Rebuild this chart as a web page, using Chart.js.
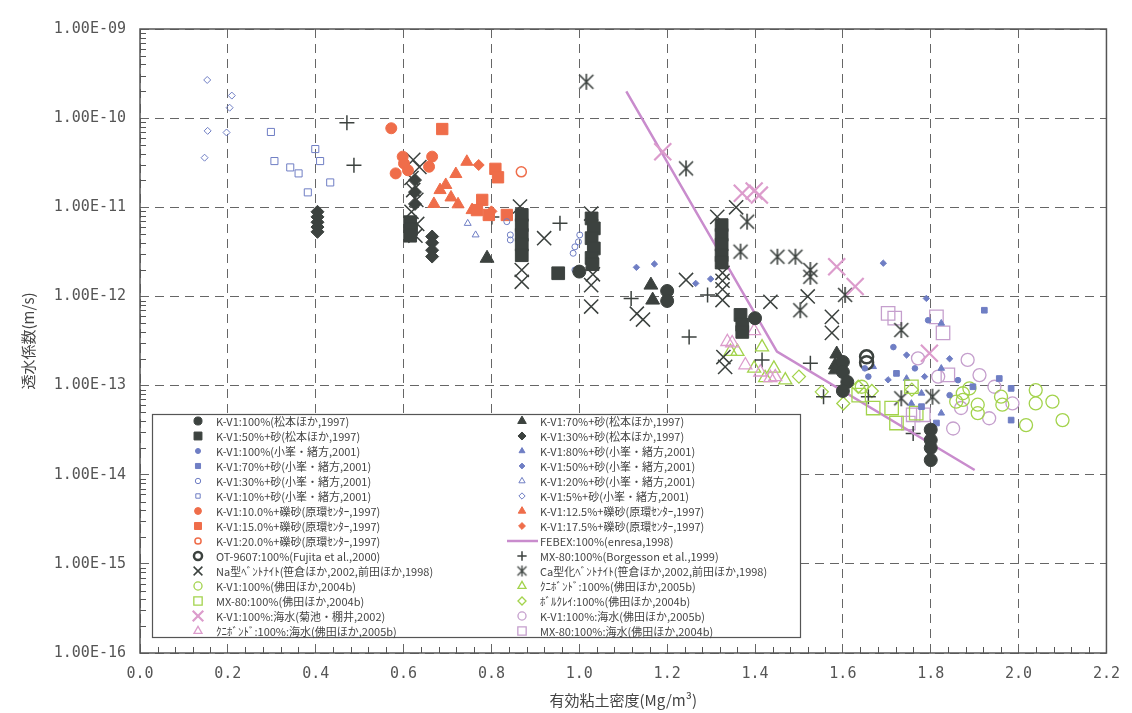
<!DOCTYPE html>
<html lang="ja">
<head>
<meta charset="utf-8">
<title>透水係数と有効粘土密度</title>
<script src="https://cdn.jsdelivr.net/npm/chart.js@4.4.1/dist/chart.umd.min.js"></script>
<style>
    body { margin: 0; background: #fff; }
    #chartBox { width: 1132px; height: 713px; }
</style>
</head>
<body>
<div id="chartBox"><canvas id="permChart" width="1132" height="713"></canvas></div>
<script>
// Axis ticks
const xTickValues = [0, 0.2, 0.4, 0.6, 0.8, 1.0, 1.2, 1.4, 1.6, 1.8, 2.0, 2.2];
const xTickLabels = ['0.0', '0.2', '0.4', '0.6', '0.8', '1.0', '1.2', '1.4', '1.6', '1.8', '2.0', '2.2'];
const yTickValues = [1e-16, 1e-15, 1e-14, 1e-13, 1e-12, 1e-11, 1e-10, 1e-9];
const yTickLabels = ['1.00E-16', '1.00E-15', '1.00E-14', '1.00E-13', '1.00E-12', '1.00E-11', '1.00E-10', '1.00E-09'];

// Series (left legend column)
const matsumoto100X = [1.00, 1.20, 1.20, 1.40, 1.60, 1.60, 1.61, 1.60, 1.80, 1.80, 1.80, 1.80];
const matsumoto100Y = [1.9e-12, 1.15e-12, 8.9e-13, 5.7e-13, 1.84e-13, 1.42e-13, 1.1e-13, 8.7e-14, 3.2e-14, 2.45e-14, 2.0e-14, 1.46e-14];
const matsumoto50X = [0.615, 0.617, 0.615, 0.869, 0.869, 0.869, 0.869, 0.869, 0.952, 1.028, 1.033, 1.028, 1.033, 1.028, 1.03, 1.324, 1.324, 1.324, 1.324, 1.324, 1.367, 1.371, 1.371];
const matsumoto50Y = [6.8e-12, 5.7e-12, 4.8e-12, 8.2e-12, 6.3e-12, 4.9e-12, 3.8e-12, 2.9e-12, 1.82e-12, 7.5e-12, 5.8e-12, 4.5e-12, 3.45e-12, 2.7e-12, 2.3e-12, 6.3e-12, 4.9e-12, 3.8e-12, 2.9e-12, 2.4e-12, 6.2e-13, 4.8e-13, 4.0e-13];
const komine100X = [1.715, 1.794, 1.764, 1.862, 1.843, 1.650, 1.658];
const komine100Y = [2.7e-13, 5.4e-13, 1.56e-13, 1.15e-13, 7.8e-14, 1.56e-13, 1.26e-13];
const komine70X = [1.922, 1.956, 1.983, 1.983, 1.722, 1.813, 1.779, 1.896];
const komine70Y = [7.0e-13, 1.2e-13, 9.3e-14, 4.1e-14, 1.37e-13, 3.8e-14, 5.8e-14, 9.7e-14];
const komine30X = [0.835, 0.843, 0.843, 1.001, 0.998, 0.990, 0.986, 0.990];
const komine30Y = [6.9e-12, 4.9e-12, 4.3e-12, 4.9e-12, 4.1e-12, 3.6e-12, 3.05e-12, 1.98e-12];
const komine10X = [0.298, 0.306, 0.342, 0.361, 0.382, 0.399, 0.410, 0.433];
const komine10Y = [7.0e-11, 3.3e-11, 2.8e-11, 2.4e-11, 1.47e-11, 4.5e-11, 3.3e-11, 1.9e-11];
const genkan10X = [0.572, 0.598, 0.601, 0.610, 0.582, 0.665, 0.658];
const genkan10Y = [7.7e-11, 3.7e-11, 3.1e-11, 2.6e-11, 2.4e-11, 3.7e-11, 2.85e-11];
const genkan15X = [0.688, 0.809, 0.815, 0.779, 0.767, 0.794, 0.835];
const genkan15Y = [7.55e-11, 2.7e-11, 2.17e-11, 1.21e-11, 9.3e-12, 8.2e-12, 8.2e-12];
const genkan20X = [0.868];
const genkan20Y = [2.5e-11];
const ot9607X = [1.654, 1.654];
const ot9607Y = [2.1e-13, 1.8e-13];
const naBentX = [0.622, 0.636, 0.618, 0.622, 0.629, 0.618, 0.631, 0.627, 0.865, 0.869, 0.869, 0.920, 1.027, 1.031, 1.027, 1.027, 1.131, 1.145, 1.243, 1.314, 1.357, 1.326, 1.326, 1.326, 1.326, 1.328, 1.332, 1.435, 1.520, 1.575, 1.575];
const naBentY = [3.4e-11, 2.83e-11, 2.13e-11, 1.56e-11, 1.21e-11, 8.9e-12, 6.5e-12, 4.8e-12, 1.02e-11, 1.98e-12, 1.46e-12, 4.5e-12, 8.5e-12, 1.77e-12, 1.34e-12, 7.7e-13, 6.4e-13, 5.5e-13, 1.53e-12, 7.8e-12, 1.0e-11, 1.84e-12, 1.5e-12, 1.2e-12, 9.1e-13, 2.09e-13, 1.62e-13, 8.7e-13, 1.0e-12, 5.9e-13, 3.9e-13];
const butsudaKv1X = [1.873, 1.873, 1.888, 1.907, 1.907, 1.960, 1.963, 2.017, 2.039, 2.039, 2.077, 2.100, 1.858, 1.643];
const butsudaKv1Y = [8.2e-14, 6.9e-14, 9.3e-14, 6.1e-14, 4.9e-14, 7.5e-14, 6.1e-14, 3.6e-14, 8.9e-14, 6.3e-14, 6.6e-14, 4.1e-14, 6.6e-14, 9.7e-14];
const butsudaMx80X = [1.669, 1.711, 1.722, 1.756, 1.767, 1.636];
const butsudaMx80Y = [5.6e-14, 5.6e-14, 3.8e-14, 9.7e-14, 4.9e-14, 7.8e-14];
const kikuchiSeaX = [1.19, 1.371, 1.398, 1.41, 1.586, 1.628, 1.797];
const kikuchiSeaY = [4.2e-11, 1.44e-11, 1.52e-11, 1.37e-11, 2.15e-12, 1.29e-12, 2.3e-13];
const kunibondSeaX = [1.337, 1.348, 1.398, 1.378, 1.412, 1.435, 1.446];
const kunibondSeaY = [3.1e-13, 3.0e-13, 4.1e-13, 1.7e-13, 1.41e-13, 1.22e-13, 1.25e-13];

// Series (right legend column)
const matsumoto70X = [0.790, 1.163, 1.167, 1.586, 1.583, 1.583];
const matsumoto70Y = [2.68e-12, 1.34e-12, 9.1e-13, 2.26e-13, 1.7e-13, 1.5e-13];
const matsumoto30X = [0.404, 0.404, 0.404, 0.404, 0.404, 0.665, 0.665, 0.665, 0.665, 0.626, 0.626, 0.626];
const matsumoto30Y = [8.9e-12, 7.8e-12, 6.8e-12, 6.0e-12, 5.3e-12, 4.7e-12, 4.0e-12, 3.3e-12, 2.8e-12, 2.02e-11, 1.48e-11, 1.09e-11];
const komine80X = [1.824, 1.669, 1.745, 1.779, 1.756, 1.824, 1.824];
const komine80Y = [5.0e-13, 1.63e-13, 1.2e-13, 8.2e-14, 6.3e-14, 4.9e-14, 1.56e-13];
const komine50X = [1.130, 1.171, 1.265, 1.299, 1.692, 1.790, 1.745, 1.843, 1.703, 1.786];
const komine50Y = [2.12e-12, 2.31e-12, 1.4e-12, 1.57e-12, 2.36e-12, 9.5e-13, 2.2e-13, 2.0e-13, 1.16e-13, 1.26e-13];
const komine20X = [0.746, 0.764, 0.800];
const komine20Y = [6.6e-12, 4.9e-12, 7.6e-12];
const komine5X = [0.153, 0.209, 0.204, 0.154, 0.197, 0.147];
const komine5Y = [2.68e-10, 1.79e-10, 1.31e-10, 7.2e-11, 6.9e-11, 3.6e-11];
const genkan12X = [0.744, 0.719, 0.696, 0.683, 0.708, 0.669, 0.724, 0.756];
const genkan12Y = [3.24e-11, 2.36e-11, 1.78e-11, 1.56e-11, 1.29e-11, 1.09e-11, 1.08e-11, 9.3e-12];
const genkan17X = [0.771, 0.800];
const genkan17Y = [2.98e-11, 9.0e-12];
const febexX = [1.107, 1.450, 1.900];
const febexY = [2.0e-10, 2.4e-13, 1.13e-14];
const borgessonX = [0.471, 0.487, 0.801, 0.956, 1.118, 1.250, 1.292, 1.416, 1.526, 1.556, 1.658, 1.760];
const borgessonY = [8.9e-11, 2.96e-11, 7.8e-12, 6.6e-12, 9.5e-13, 3.5e-13, 1.04e-12, 1.94e-13, 1.78e-13, 7.5e-14, 7.5e-14, 2.9e-14];
const caBentX = [1.016, 1.243, 1.382, 1.367, 1.451, 1.492, 1.526, 1.526, 1.503, 1.605, 1.733, 1.733, 1.804];
const caBentY = [2.56e-10, 2.73e-11, 6.9e-12, 3.18e-12, 2.79e-12, 2.79e-12, 1.98e-12, 1.66e-12, 7.0e-13, 1.04e-12, 4.2e-13, 7.2e-14, 7.5e-14];
const kunibondX = [1.344, 1.360, 1.416, 1.398, 1.423, 1.443, 1.469];
const kunibondY = [2.4e-13, 2.4e-13, 2.7e-13, 1.56e-13, 1.22e-13, 1.56e-13, 1.15e-13];
const volclayX = [1.500, 1.552, 1.601, 1.635, 1.666, 1.757];
const volclayY = [1.26e-13, 8.5e-14, 6.3e-14, 9.7e-14, 8.7e-14, 9.0e-14];
const butsudaSeaX = [1.771, 1.884, 1.911, 1.945, 1.986, 1.869, 1.933, 1.851, 1.817];
const butsudaSeaY = [2.02e-13, 1.94e-13, 1.31e-13, 9.7e-14, 6.3e-14, 5.6e-14, 4.3e-14, 3.3e-14, 1.26e-13];
const mx80SeaX = [1.703, 1.718, 1.813, 1.828, 1.760, 1.783, 1.749, 1.839];
const mx80SeaY = [6.45e-13, 5.7e-13, 5.9e-13, 3.9e-13, 4.7e-14, 4.7e-14, 3.8e-14, 1.32e-13];

// Colours
const DARK = '#3c423f';
const BLUE = '#6f7ec4';
const ORANGE = '#ef6d4a';
const GREEN = '#a3d34c';
const PINK = '#dc9ccc';
const LILAC = '#c59fcd';
const FEBEX = '#c98ccd';
const CLEAR = 'rgba(0,0,0,0)';
const JP = "'Noto Sans CJK JP', 'Noto Sans', sans-serif";

// Excel style star marker (x with a vertical bar)
function excelStar(r, color, lw) {
    const c = document.createElement('canvas');
    const s = Math.ceil(2 * r + lw + 2);
    c.width = s;
    c.height = s;
    const g = c.getContext('2d');
    const m = s / 2;
    g.strokeStyle = color;
    g.lineWidth = lw;
    g.beginPath();
    g.moveTo(m - r, m - r); g.lineTo(m + r, m + r);
    g.moveTo(m + r, m - r); g.lineTo(m - r, m + r);
    g.moveTo(m, m - r - 1); g.lineTo(m, m + r + 1);
    g.stroke();
    return c;
}

function pts(xs, ys) {
    return xs.map((x, i) => ({ x: x, y: ys[i] }));
}
function filled(shape, color, r) {
    return { pointStyle: shape, pointRadius: r, backgroundColor: color, borderColor: color, borderWidth: 1 };
}
function hollow(shape, color, r, w) {
    return { pointStyle: shape, pointRadius: r, backgroundColor: CLEAR, borderColor: color, borderWidth: w || 1.3 };
}
function series(label, xs, ys, style) {
    return Object.assign({ label: label, data: pts(xs, ys), pointHoverRadius: style.pointRadius }, style);
}

const datasets = [
    series('K-V1:100%(松本ほか,1997)', matsumoto100X, matsumoto100Y, filled('circle', DARK, 6.5)),
    series('K-V1:50%+砂(松本ほか,1997)', matsumoto50X, matsumoto50Y, filled('rect', DARK, 9)),
    series('K-V1:100%(小峯・緒方,2001)', komine100X, komine100Y, filled('circle', BLUE, 2.8)),
    series('K-V1:70%+砂(小峯・緒方,2001)', komine70X, komine70Y, filled('rect', BLUE, 4)),
    series('K-V1:30%+砂(小峯・緒方,2001)', komine30X, komine30Y, hollow('circle', BLUE, 3, 1)),
    series('K-V1:10%+砂(小峯・緒方,2001)', komine10X, komine10Y, hollow('rect', BLUE, 5, 1)),
    series('K-V1:10.0%+礫砂(原環ｾﾝﾀｰ,1997)', genkan10X, genkan10Y, filled('circle', ORANGE, 5.5)),
    series('K-V1:15.0%+礫砂(原環ｾﾝﾀｰ,1997)', genkan15X, genkan15Y, filled('rect', ORANGE, 8)),
    series('K-V1:20.0%+礫砂(原環ｾﾝﾀｰ,1997)', genkan20X, genkan20Y, hollow('circle', ORANGE, 5, 1.5)),
    series('OT-9607:100%(Fujita et al.,2000)', ot9607X, ot9607Y, hollow('circle', DARK, 6.5, 2.5)),
    series('Na型ﾍﾞﾝﾄﾅｲﾄ(笹倉ほか,2002,前田ほか,1998)', naBentX, naBentY, hollow('crossRot', DARK, 10, 1.5)),
    series('K-V1:100%(佛田ほか,2004b)', butsudaKv1X, butsudaKv1Y, hollow('circle', GREEN, 6.5)),
    series('MX-80:100%(佛田ほか,2004b)', butsudaMx80X, butsudaMx80Y, hollow('rect', GREEN, 9.5)),
    series('K-V1:100%:海水(菊池・棚井,2002)', kikuchiSeaX, kikuchiSeaY, hollow('crossRot', PINK, 12, 2.2)),
    series('ｸﾆﾎﾞﾝﾄﾞ:100%:海水(佛田ほか,2005b)', kunibondSeaX, kunibondSeaY, hollow('triangle', PINK, 7.5)),

    series('K-V1:70%+砂(松本ほか,1997)', matsumoto70X, matsumoto70Y, filled('triangle', DARK, 8)),
    series('K-V1:30%+砂(松本ほか,1997)', matsumoto30X, matsumoto30Y, filled('rectRot', DARK, 6.5)),
    series('K-V1:80%+砂(小峯・緒方,2001)', komine80X, komine80Y, filled('triangle', BLUE, 3.8)),
    series('K-V1:50%+砂(小峯・緒方,2001)', komine50X, komine50Y, filled('rectRot', BLUE, 3.2)),
    series('K-V1:20%+砂(小峯・緒方,2001)', komine20X, komine20Y, hollow('triangle', BLUE, 4, 1)),
    series('K-V1:5%+砂(小峯・緒方,2001)', komine5X, komine5Y, hollow('rectRot', BLUE, 3.5, 1)),
    series('K-V1:12.5%+礫砂(原環ｾﾝﾀｰ,1997)', genkan12X, genkan12Y, filled('triangle', ORANGE, 7)),
    series('K-V1:17.5%+礫砂(原環ｾﾝﾀｰ,1997)', genkan17X, genkan17Y, filled('rectRot', ORANGE, 5.5)),
    Object.assign(series('FEBEX:100%(enresa,1998)', febexX, febexY, { pointRadius: 0 }), {
        showLine: true, borderColor: FEBEX, backgroundColor: FEBEX, borderWidth: 2.5, fill: false
    }),
    series('MX-80:100%(Borgesson et al.,1999)', borgessonX, borgessonY, hollow('cross', DARK, 7.5, 1.5)),
    Object.assign(series('Ca型化ﾍﾞﾝﾄﾅｲﾄ(笹倉ほか,2002,前田ほか,1998)', caBentX, caBentY,
        { pointStyle: excelStar(7, DARK, 1.6), pointRadius: 7, borderColor: DARK, backgroundColor: DARK }),
        { legendStyle: excelStar(4.5, DARK, 1.3) }),
    series('ｸﾆﾎﾞﾝﾄﾞ:100%(佛田ほか,2005b)', kunibondX, kunibondY, hollow('triangle', GREEN, 7.5)),
    series('ﾎﾞﾙｸﾚｲ:100%(佛田ほか,2004b)', volclayX, volclayY, hollow('rectRot', GREEN, 6.5)),
    series('K-V1:100%:海水(佛田ほか,2005b)', butsudaSeaX, butsudaSeaY, hollow('circle', LILAC, 6.5)),
    series('MX-80:100%:海水(佛田ほか,2004b)', mx80SeaX, mx80SeaY, hollow('rect', LILAC, 9.5))
];

// Plot frame plus minor ticks on the left and bottom axes
const frameTicks = {
    id: 'frameTicks',
    beforeDatasetsDraw(chart) {
        const { ctx, chartArea: a, scales: { x, y } } = chart;
        ctx.save();
        ctx.strokeStyle = '#555';
        ctx.lineWidth = 1.5;
        ctx.strokeRect(a.left, a.top, a.right - a.left, a.bottom - a.top);
        ctx.lineWidth = 1;
        ctx.beginPath();
        for (let d = -16; d < -9; d++) {
            for (let m = 2; m <= 9; m++) {
                const py = Math.round(y.getPixelForValue(m * Math.pow(10, d))) + 0.5;
                ctx.moveTo(a.left, py);
                ctx.lineTo(a.left + 6, py);
            }
        }
        for (let k = 1; k < 55; k++) {
            if (k % 5 === 0) continue;
            const px = Math.round(x.getPixelForValue(k * 0.04)) + 0.5;
            ctx.moveTo(px, a.bottom);
            ctx.lineTo(px, a.bottom - 6);
        }
        ctx.stroke();
        ctx.restore();
    }
};

// Boxed two column legend drawn inside the plot
const boxLegend = {
    id: 'boxLegend',
    afterDatasetsDraw(chart) {
        const ctx = chart.ctx;
        const left = 152, top = 414, width = 648, height = 223;
        ctx.save();
        ctx.fillStyle = '#fff';
        ctx.fillRect(left, top, width, height);
        ctx.strokeStyle = '#555';
        ctx.lineWidth = 1.2;
        ctx.strokeRect(left + 0.5, top + 0.5, width, height);
        ctx.font = '11px ' + JP;
        ctx.textBaseline = 'middle';
        chart.data.datasets.forEach((ds, i) => {
            const col = i < 15 ? 0 : 1;
            const cy = 421 + (i % 15) * 15;
            const mx = col ? 522 : 198;
            const tx = col ? 540 : 216;
            ctx.save();
            ctx.strokeStyle = ds.borderColor;
            ctx.fillStyle = ds.backgroundColor;
            if (ds.showLine) {
                ctx.lineWidth = ds.borderWidth;
                ctx.beginPath();
                ctx.moveTo(mx - 15, cy);
                ctx.lineTo(tx - 2, cy);
                ctx.stroke();
            } else {
                const r = ds.pointRadius;
                ctx.lineWidth = ds.borderWidth || 1;
                Chart.helpers.drawPoint(ctx, {
                    pointStyle: ds.legendStyle || ds.pointStyle,
                    radius: r > 4 ? r * 0.62 : r * 0.9,
                    rotation: 0,
                    borderWidth: ds.borderWidth || 1
                }, mx, cy);
            }
            ctx.restore();
            ctx.fillStyle = '#444';
            ctx.fillText(ds.label, tx, cy + 0.5);
        });
        ctx.restore();
    }
};

const ctx = document.getElementById('permChart').getContext('2d');
const permChart = new Chart(ctx, {
    type: 'scatter',
    data: { datasets: datasets },
    plugins: [frameTicks, boxLegend],
    options: {
        responsive: false,
        animation: false,
        events: [],
        layout: { padding: { left: 0, top: 29, right: 21, bottom: 0 } },
        plugins: {
            legend: { display: false },
            tooltip: { enabled: false }
        },
        scales: {
            x: {
                type: 'linear',
                min: 0,
                max: 2.2,
                afterBuildTicks: s => { s.ticks = xTickValues.map(v => ({ value: v })); },
                afterFit: s => { s.height = 60; },
                ticks: {
                    callback: (v, i) => xTickLabels[i],
                    autoSkip: false,
                    maxRotation: 0,
                    padding: 12,
                    color: '#555',
                    font: { family: "'DejaVu Sans Mono', monospace", size: 15 }
                },
                grid: { color: '#666', lineWidth: 1, drawTicks: false },
                border: { display: false, dash: [9, 6] },
                title: {
                    display: true,
                    text: '有効粘土密度(Mg/m³)',
                    color: '#444',
                    font: { family: JP, size: 15 },
                    padding: { top: 0, bottom: 4 }
                }
            },
            y: {
                type: 'logarithmic',
                min: 1e-16,
                max: 1e-9,
                afterBuildTicks: s => { s.ticks = yTickValues.map(v => ({ value: v })); },
                afterFit: s => { s.width = 140; },
                ticks: {
                    callback: (v, i) => yTickLabels[i],
                    autoSkip: false,
                    padding: 14,
                    color: '#555',
                    font: { family: "'DejaVu Sans Mono', monospace", size: 15 }
                },
                grid: { color: '#666', lineWidth: 1, drawTicks: false },
                border: { display: false, dash: [9, 6] },
                title: {
                    display: true,
                    text: '透水係数(m/s)',
                    color: '#444',
                    font: { family: JP, size: 15 },
                    padding: { top: 19, bottom: 0 }
                }
            }
        }
    }
});
</script>
</body>
</html>
